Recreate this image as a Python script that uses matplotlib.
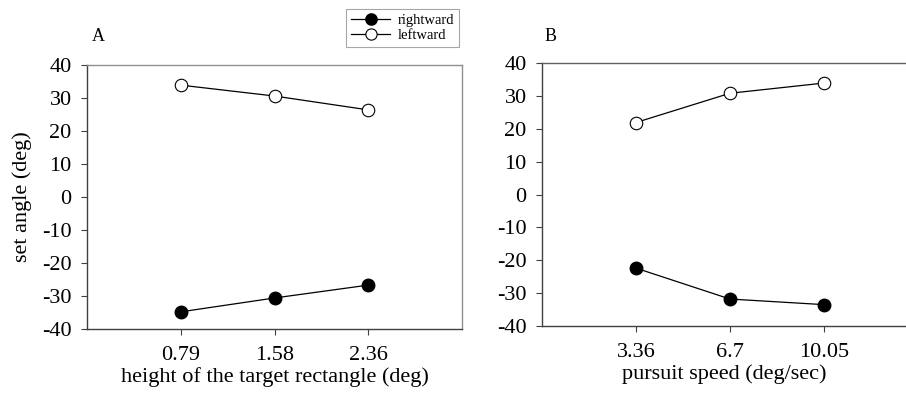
import numpy as np
import matplotlib.pyplot as plt

plt.rcParams['font.family'] = ['Liberation Serif', 'DejaVu Serif']
plt.rcParams['axes.unicode_minus'] = False

# data
height_labels = ['0.79', '1.58', '2.36']
height_right = [-34.8, -30.6, -26.7]
height_left = [33.9, 30.6, 26.4]

speed_labels = ['3.36', '6.7', '10.05']
speed_right = [-22.4, -31.8, -33.5]
speed_left = [21.9, 30.8, 33.9]

W, H = 906, 396
fig = plt.figure(figsize=(W / 100, H / 100), dpi=100)


def px_axes(x0, y0, x1, y1):
    return fig.add_axes([x0 / W, 1 - y1 / H, (x1 - x0) / W, (y1 - y0) / H])


def style(ax, labels, xmax):
    pos = np.arange(1, len(labels) + 1)
    ax.set_xlim(0, xmax)
    ax.set_ylim(-40, 40)
    ax.set_xticks(pos)
    ax.set_xticklabels(labels)
    ax.set_yticks(np.arange(-40, 41, 10))
    ax.tick_params(direction='out', length=4, width=0.8, labelsize=16,
                   color='#404040')
    ax.tick_params(axis='x', pad=8)
    ax.tick_params(axis='y', pad=7)
    for s in ['left', 'bottom']:
        ax.spines[s].set_color('#404040')
        ax.spines[s].set_linewidth(1)
    for s in ['top', 'right']:
        ax.spines[s].set_color('#909090')
        ax.spines[s].set_linewidth(1)
    return pos


def draw(ax, pos, right, left):
    ax.plot(pos, right, color='black', lw=0.9, marker='o', ms=9,
            mfc='black', mec='black', label='rightward')
    ax.plot(pos, left, color='black', lw=0.9, marker='o', ms=9,
            mfc='white', mec='black', mew=0.8, label='leftward')


# panel A
axA = px_axes(87, 65, 462, 329)
pos = style(axA, height_labels, 4)
draw(axA, pos, height_right, height_left)
axA.set_xlabel('height of the target rectangle (deg)', fontsize=16, labelpad=2)
axA.set_ylabel('set angle (deg)', fontsize=16, labelpad=7)
fig.text(92 / W, 1 - 41 / H, 'A', fontsize=13)

# panel B
axB = px_axes(542, 63, 906, 326)
pos = style(axB, speed_labels, (906 - 542) / 94)
axB.spines['right'].set_visible(False)
axB.spines['top'].set_color('#606060')
draw(axB, pos, speed_right, speed_left)
axB.set_xlabel('pursuit speed (deg/sec)', fontsize=16, labelpad=2)
fig.text(545 / W, 1 - 41 / H, 'B', fontsize=13)

# legend
handles, labels = axA.get_legend_handles_labels()
leg = fig.legend(handles, labels, loc='upper left',
                 bbox_to_anchor=(346 / W, 1 - 9 / H), fontsize=10.5,
                 frameon=True, fancybox=False, edgecolor='#909090',
                 borderpad=0.35, handlelength=2.7, handletextpad=0.5,
                 labelspacing=0.1, markerscale=0.9, borderaxespad=0)
leg.get_frame().set_linewidth(0.8)

fig.savefig('out.png', dpi=100)
